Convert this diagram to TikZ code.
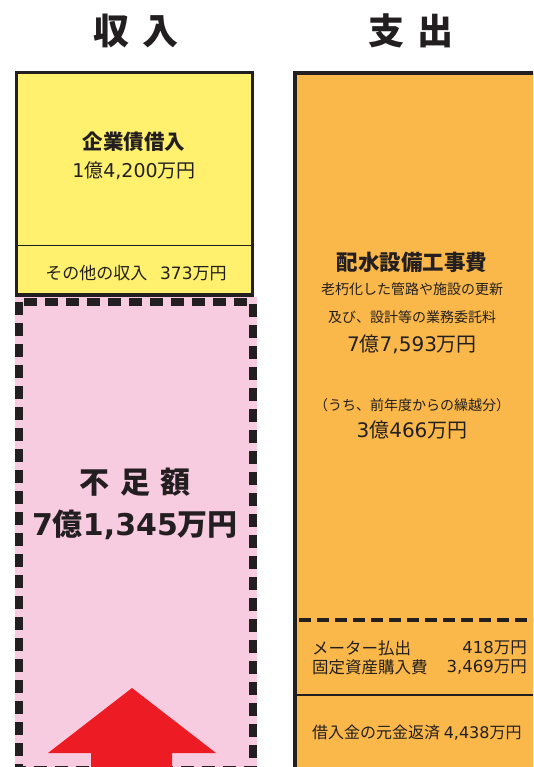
\documentclass[tikz,border=0pt]{standalone}
\usepackage{fontspec}
\setmainfont{Noto Sans CJK JP}
\newfontfamily\numfont{DejaVu Sans}
\usetikzlibrary{positioning}

\definecolor{inyellow}{RGB}{255,241,110}
\definecolor{lackpink}{RGB}{248,204,224}
\definecolor{outorange}{RGB}{250,184,74}
\definecolor{uparrow}{RGB}{237,28,36}
\definecolor{ink}{RGB}{35,31,32}

\newcommand{\fs}[1]{\fontsize{#1}{#1}\selectfont}
\newcommand{\nm}[1]{{\numfont #1}}

\begin{document}
\begin{tikzpicture}[x=1pt,y=-1pt,
  lbl/.style={inner sep=0pt, text=ink},
  head/.style={lbl, font=\bfseries\fs{36}},
  bigttl/.style={lbl, font=\bfseries\fs{30}},
  boxttl/.style={lbl, font=\bfseries\fs{21}},
  amt/.style={lbl, font=\fs{20}},
  note/.style={lbl, font=\fs{14}},
  item/.style={lbl, font=\fs{16.5}},
  frame/.style={draw=ink, line width=3.5pt}]
\useasboundingbox (0,0) rectangle (533,767);
\clip (0,0) rectangle (533,767);

% column headings
\node[head] (inhead)  at (136,31) {収\hspace{0.35em}入};
\node[head] (outhead) at (411,31) {支\hspace{0.35em}出};

% income side
\fill[lackpink] (15,297) rectangle (257,780);
\draw[draw=ink, line width=8pt, dash pattern=on 13pt off 8pt]
  (19,302) rectangle (253,770);
\draw[frame, fill=inyellow] (16.5,72.5) rectangle (252.5,295);
\draw[draw=ink, line width=1.8pt] (16.5,245.5) -- (252.5,245.5);

\node[boxttl, font=\bfseries\fs{20.5}] (bond) at (134,142) {企業債借入};
\node[lbl, font=\fs{19}, below=9pt of bond] (bondamt) {\nm{1}億\nm{4,200}万円};
\node[lbl, font=\fs{17}] (other) at (136,273) {その他の収入\hspace{0.75em}\nm{373}万円};

\node[bigttl] (lack) at (135,482) {不\hspace{0.35em}足\hspace{0.35em}額};
\node[bigttl, below=13pt of lack] (lackamt) {\nm{7}億\nm{1,345}万円};

% spending side
\fill[outorange] (295,73) rectangle (545,780);
\draw[frame] (295,780) -- (295,73) -- (545,73);
\draw[draw=ink, line width=4pt, dash pattern=on 12pt off 6pt]
  (299,620) -- (540,620);
\draw[draw=ink, line width=2pt] (295,695) -- (540,695);

\node[boxttl, font=\bfseries\fs{21.5}] (works) at (412,262) {配水設備工事費};
\node[note, below=10.5pt of works] (workd1) {老朽化した管路や施設の更新};
\node[note, below=14pt of workd1] (workd2) {及び、設計等の業務委託料};
\node[amt, below=11pt of workd2] (workamt) {\nm{7}億\nm{7,593}万円};
\node[note] (carry) at (412,405) {（うち、前年度からの繰越分）};
\node[amt, below=9pt of carry] (carryamt) {\nm{3}億\nm{466}万円};

\node[item, anchor=west] (meter) at (312,648) {メーター払出};
\node[item, anchor=east] (meteramt) at (527,648) {\nm{418}万円};
\node[item, anchor=west] (asset) at (312,667) {固定資産購入費};
\node[item, anchor=east] (assetamt) at (527,667) {\nm{3,469}万円};
\node[lbl, font=\fs{16}, anchor=west] (loan) at (312,733) {借入金の元金返済 \nm{4,438}万円};

% arrow
\fill[uparrow] (132,688) -- (216,753) -- (172,753) -- (172,780)
  -- (91,780) -- (91,753) -- (48,753) -- cycle;
\end{tikzpicture}
\end{document}
